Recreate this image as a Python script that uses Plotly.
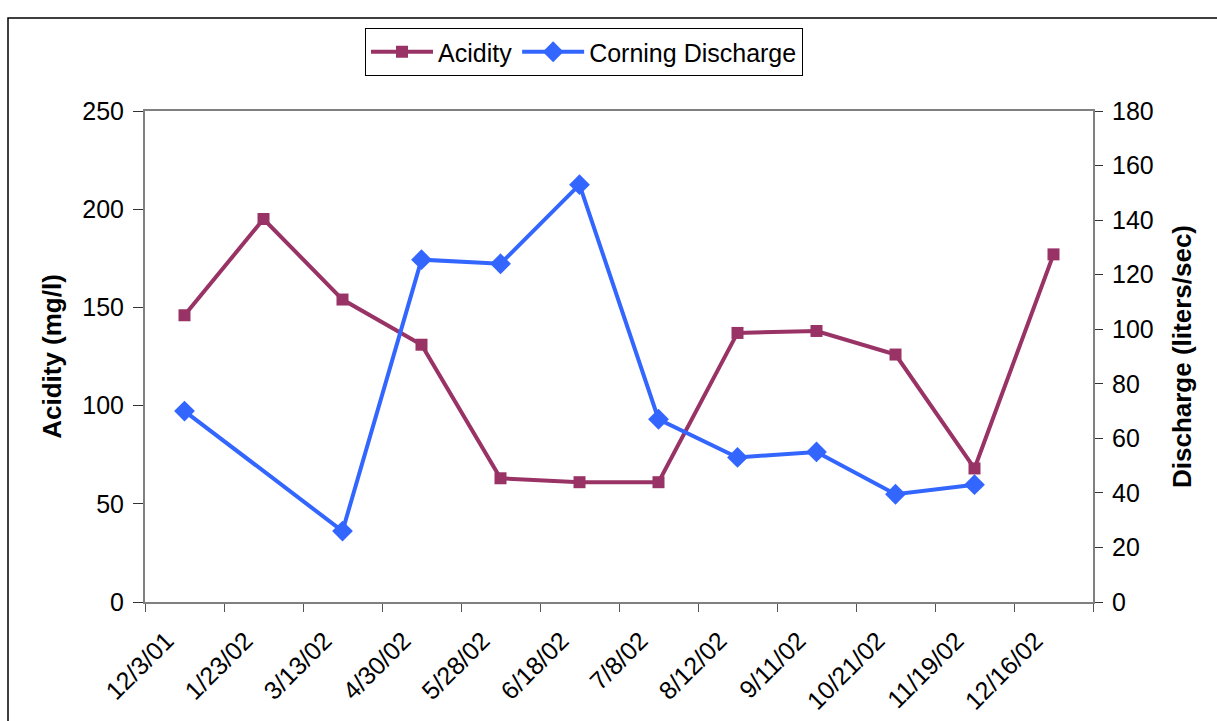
import plotly.graph_objects as go

# Sampling dates (category axis)
dates = ["12/3/01", "1/23/02", "3/13/02", "4/30/02", "5/28/02", "6/18/02",
         "7/8/02", "8/12/02", "9/11/02", "10/21/02", "11/19/02", "12/16/02"]

# Acidity in mg/l (left axis)
acidity = [146, 195, 154, 131, 63, 61, 61, 137, 138, 126, 68, 177]

# Corning discharge in liters/sec (right axis); None = not measured
discharge = [70, None, 26, 125.5, 124, 153, 67, 53, 55, 39.5, 43, None]

ACID_COLOR = "#993366"
FLOW_COLOR = "#3366FF"
FONT = "Liberation Sans, Arial, sans-serif"

fig = go.Figure()

fig.add_trace(go.Scatter(
    x=dates, y=acidity, name="Acidity", mode="lines+markers",
    line=dict(color=ACID_COLOR, width=4),
    marker=dict(symbol="square", size=12, color=ACID_COLOR),
))
fig.add_trace(go.Scatter(
    x=dates, y=discharge, name="Corning Discharge", mode="lines+markers",
    yaxis="y2", connectgaps=True,
    line=dict(color=FLOW_COLOR, width=4),
    marker=dict(symbol="diamond", size=16, color=FLOW_COLOR),
))

L, R, T, B = 145, 124, 111, 119
W, H = 1217, 721
pw, ph = W - L - R, H - T - B

def px(x):
    return (x - L) / pw

def py(y):
    return (H - B - y) / ph

fig.update_layout(
    width=W, height=H,
    margin=dict(l=L, r=R, t=T, b=B, autoexpand=False),
    paper_bgcolor="white", plot_bgcolor="white",
    font=dict(family=FONT, size=25, color="black"),
    showlegend=True,
    legend=dict(
        orientation="h", x=px(365), y=py(28), xanchor="left", yanchor="top",
        bordercolor="black", borderwidth=1, bgcolor="white",
        font=dict(size=25), itemwidth=62, tracegroupgap=0,
    ),
    xaxis=dict(
        type="category", tickson="boundaries", ticks="outside", ticklen=8,
        tickcolor="#555555", tickangle=-45, showgrid=False, automargin=False,
        showline=True, linecolor="#808080", linewidth=2, mirror=True,
        tickfont=dict(size=25), ticklabelshift=-18, ticklabelstandoff=12,
        range=[-0.5, 11.5],
    ),
    yaxis=dict(
        range=[0, 250], dtick=50, ticks="outside", ticklen=10,
        tickcolor="#333333", showgrid=False, zeroline=False, automargin=False,
        showline=True, linecolor="#808080", linewidth=2, mirror=True,
        tickfont=dict(size=25), ticklabelstandoff=4,
        title=dict(text="<b>Acidity (mg/l)</b>", font=dict(size=26), standoff=13),
    ),
    yaxis2=dict(
        range=[0, 180], dtick=20, overlaying="y", side="right",
        ticks="outside", ticklen=8, tickcolor="#333333", automargin=False,
        showgrid=False, zeroline=False, showline=True,
        linecolor="#808080", linewidth=2,
        tickfont=dict(size=25), ticklabelstandoff=4,
        title=dict(text="<b>Discharge (liters/sec)</b>", font=dict(size=26), standoff=20),
    ),
    shapes=[dict(
        type="rect", xref="paper", yref="paper",
        x0=px(8), x1=px(1240), y0=py(740), y1=py(18),
        line=dict(color="black", width=1.5), fillcolor="rgba(0,0,0,0)",
        layer="below",
    )],
)

fig.write_html("out.html")
